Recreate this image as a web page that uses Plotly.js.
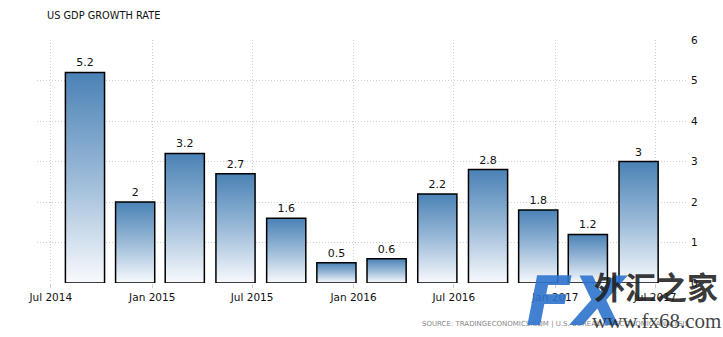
<!DOCTYPE html>
<html>
<head>
<meta charset="utf-8">
<script src="https://cdn.plot.ly/plotly-3.0.1.min.js"></script>
<style>
html,body{margin:0;padding:0;background:#fff;}
#chart{width:723px;height:337px;}
</style>
</head>
<body>
<div id="chart"></div>
<script>
// Quarter dates (plotted at last month of each quarter)
const quarters = ["2014-09-01","2014-12-01","2015-03-01","2015-06-01","2015-09-01","2015-12-01",
                  "2016-03-01","2016-06-01","2016-09-01","2016-12-01","2017-03-01","2017-06-01"];
const gdpGrowth = [5.2, 2, 3.2, 2.7, 1.6, 0.5, 0.6, 2.2, 2.8, 1.8, 1.2, 3];
const valueLabels = ["5.2","2","3.2","2.7","1.6","0.5","0.6","2.2","2.8","1.8","1.2","3"];
const xTickVals = ["2014-07-01","2015-01-01","2015-07-01","2016-01-01","2016-07-01","2017-01-01","2017-07-01"];
const xTickText = ["Jul 2014","Jan 2015","Jul 2015","Jan 2016","Jul 2016","Jan 2017","Jul 2017"];
const yTickVals = [0,1,2,3,4,5,6];

const DAY = 86400000;
const font = "Tahoma, 'DejaVu Sans', Verdana, sans-serif";
const grid = "#cfcfcf";

const trace = {
  type: "bar",
  x: quarters,
  y: gdpGrowth,
  width: quarters.map(() => 71 * DAY),
  text: valueLabels,
  textposition: "outside",
  cliponaxis: false,
  textfont: {family: font, size: 11, color: "#111"},
  marker: {color: "#8db0d2", line: {color: "#000", width: 1.5}},
  hoverinfo: "none"
};

const layout = {
  width: 723, height: 337,
  margin: {l: 37, r: 37, t: 40, b: 54, pad: 0},
  paper_bgcolor: "#fff", plot_bgcolor: "#fff",
  showlegend: false,
  font: {family: font, size: 11, color: "#111"},
  title: {text: "US GDP GROWTH RATE", x: 47/723, xanchor: "left", y: 1 - 16/337, yanchor: "middle",
          font: {family: font, size: 9.8, color: "#111"}},
  xaxis: {
    type: "date",
    range: ["2014-06-06", "2017-08-26"],
    tickmode: "array", tickvals: xTickVals, ticktext: xTickText,
    showgrid: true, gridcolor: grid, griddash: "1px,2px", gridwidth: 1,
    ticks: "outside", ticklen: 4, tickcolor: grid,
    showline: false, zeroline: false,
    tickfont: {family: font, size: 10.5, color: "#111"}
  },
  yaxis: {
    range: [0, 6], side: "right",
    tickmode: "array", tickvals: yTickVals,
    showgrid: true, gridcolor: grid, griddash: "1px,2px", gridwidth: 1,
    zeroline: false, showline: false, ticks: "", ticklabelstandoff: 4,
    tickfont: {family: font, size: 10.5, color: "#111"}
  },
  annotations: [
    {text: "SOURCE: TRADINGECONOMICS.COM | U.S. BUREAU OF ECONOMIC ANALYSIS", xref: "paper", yref: "paper",
     x: (420-37)/649, xanchor: "left", y: (283-324)/243, yanchor: "middle", showarrow: false,
     font: {family: font, size: 7, color: "#888"}},
    {text: "<b><i>FX</i></b>", xref: "paper", yref: "paper", x: (524-37)/649, xanchor: "left",
     y: (283-301)/243, yanchor: "middle", showarrow: false,
     font: {family: "'DejaVu Sans', sans-serif", size: 68, color: "rgba(45,115,205,0.9)"}},
    {text: "<b>外汇之家</b>", xref: "paper", yref: "paper", x: (592-37)/649, xanchor: "left",
     y: (283-285)/243, yanchor: "middle", showarrow: false,
     font: {family: "'Noto Sans CJK SC', sans-serif", size: 31, color: "rgba(30,30,30,0.9)"}},
    {text: "www.fx68.com", xref: "paper", yref: "paper", x: (590-37)/649, xanchor: "left",
     y: (283-321)/243, yanchor: "middle", showarrow: false,
     font: {family: "'Liberation Serif', 'DejaVu Serif', serif", size: 21, color: "rgba(30,30,30,0.85)"}}
  ]
};

Plotly.newPlot("chart", [trace], layout, {staticPlot: true, displayModeBar: false}).then(function (gd) {
  const svg = gd.querySelector("svg.main-svg");
  const ns = "http://www.w3.org/2000/svg";
  let defs = svg.querySelector("defs");
  if (!defs) { defs = document.createElementNS(ns, "defs"); svg.insertBefore(defs, svg.firstChild); }
  const lg = document.createElementNS(ns, "linearGradient");
  lg.setAttribute("id", "barGrad");
  lg.setAttribute("x1", "0"); lg.setAttribute("y1", "0");
  lg.setAttribute("x2", "0"); lg.setAttribute("y2", "1");
  [["0", "#4a82b5"], ["0.5", "#9bbad8"], ["1", "#f8fafd"]].forEach(function (s) {
    const st = document.createElementNS(ns, "stop");
    st.setAttribute("offset", s[0]); st.setAttribute("stop-color", s[1]);
    lg.appendChild(st);
  });
  defs.appendChild(lg);
  gd.querySelectorAll(".bars .point path").forEach(function (p) {
    p.style.fill = "url(#barGrad)";
  });
});
</script>
</body>
</html>
